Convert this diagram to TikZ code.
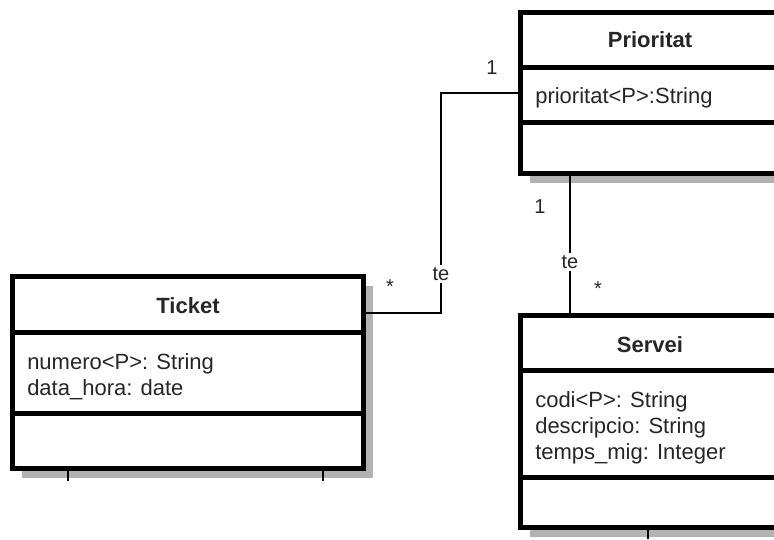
\documentclass[tikz,border=0pt]{standalone}
\usepackage{fontspec}
\setmainfont{Liberation Sans}
\usetikzlibrary{shadows}
\tikzset{
	classbox/.style={draw=black, line width=3.75pt, fill=white, inner sep=0pt,
		drop shadow={shadow xshift=7pt, shadow yshift=-7pt, fill=black!30, opacity=1}},
	divider/.style={line width=3.75pt},
	assoc/.style={line width=1.1pt},
	classname/.style={font=\fontsize{16.5}{19.5}\selectfont\bfseries, text=black!85, anchor=base},
	attrib/.style={font=\fontsize{16.5}{19.5}\selectfont, text=black!85, anchor=base west, inner sep=0pt},
	mult/.style={font=\fontsize{15}{18}\selectfont, text=black!85, inner sep=0pt},
	rolename/.style={font=\fontsize{15}{18}\selectfont, text=black!85, fill=white, inner sep=1.5pt}
}
\begin{document}
\begin{tikzpicture}[x=0.75pt, y=-0.75pt]
			%%%%% START %%%%%
			\useasboundingbox (0, 0) rectangle (774, 539);
			\clip (0, 0) rectangle (774, 539);
			
			% classes
			\node[classbox, minimum width=263.25pt, minimum height=144pt] (ticket) at (188, 372.5) {};
			\node[classbox, minimum width=194.25pt, minimum height=120.75pt] (prio) at (650, 93) {};
			\node[classbox, minimum width=194.25pt, minimum height=159pt] (servei) at (650, 421.5) {};
			
			\draw[divider] (ticket.west |- 0, 332) -- (ticket.east |- 0, 332);
			\draw[divider] (ticket.west |- 0, 413) -- (ticket.east |- 0, 413);
			\draw[divider] (prio.west |- 0, 67) -- (prio.east |- 0, 67);
			\draw[divider] (prio.west |- 0, 122) -- (prio.east |- 0, 122);
			\draw[divider] (servei.west |- 0, 370) -- (servei.east |- 0, 370);
			\draw[divider] (servei.west |- 0, 477) -- (servei.east |- 0, 477);
			
			% texts
			\node[classname] (ticketname) at (188, 313) {Ticket};
			\node[attrib] (numero) at (27, 369) {numero<P>: String};
			\node[attrib] (datahora) at (27, 395) {data\_hora: date};
			
			\node[classname] (prioname) at (650, 47) {Prioritat};
			\node[attrib] (prioritat) at (535, 103) {prioritat<P>:String};
			
			\node[classname] (serveiname) at (650, 352) {Servei};
			\node[attrib] (codi) at (535, 407) {codi<P>: String};
			\node[attrib] (descripcio) at (535, 433) {descripcio: String};
			\node[attrib] (tempsmig) at (535, 459) {temps\_mig: Integer};
			
			% associations
			\coordinate (bend1) at (441, 313);
			\coordinate (bend2) at (441, 93);
			\draw[assoc] (ticket.east |- bend1) -- (bend1) -- (bend2) -- (prio.west |- bend2);
			\draw[assoc] (prio.south -| 570, 0) -- (servei.north -| 570, 0);
			
			\node[rolename] (te1) at (441, 274) {te};
			\node[rolename] (te2) at (570, 262) {te};
			
			\node[mult] (m1) at (390, 287) {*};
			\node[mult] (m2) at (492, 68) {1};
			\node[mult] (m3) at (540, 207) {1};
			\node[mult] (m4) at (598, 289) {*};
			
			% stubs
			\coordinate (s1) at (68, 481);
			\coordinate (s2) at (323, 481);
			\coordinate (s3) at (648, 539);
			\draw[assoc] (ticket.south -| s1) -- (s1);
			\draw[assoc] (ticket.south -| s2) -- (s2);
			\draw[assoc] (servei.south -| s3) -- (s3);
			%%%%% END %%%%%
\end{tikzpicture}
\end{document}
